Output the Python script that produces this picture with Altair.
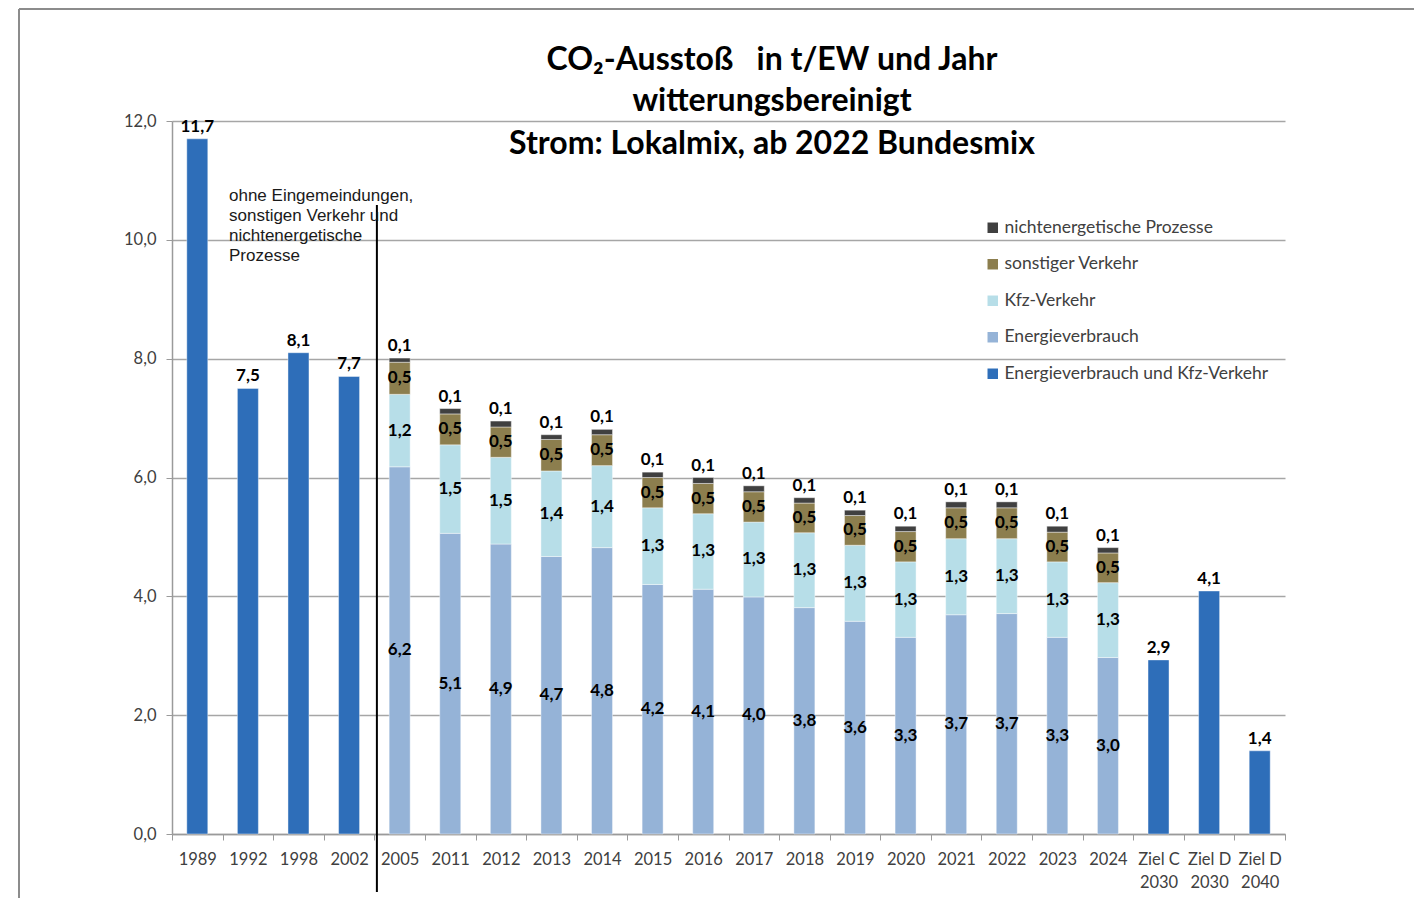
import altair as alt
import pandas as pd

# ---------------- data ----------------
categories = ["1989", "1992", "1998", "2002", "2005", "2011", "2012", "2013", "2014",
              "2015", "2016", "2017", "2018", "2019", "2020", "2021", "2022", "2023",
              "2024", "Ziel C|2030", "Ziel D|2030", "Ziel D|2040"]

single_cats = ["1989", "1992", "1998", "2002", "Ziel C|2030", "Ziel D|2030", "Ziel D|2040"]
single_vals = [11.7, 7.5, 8.1, 7.7, 2.93, 4.09, 1.40]

stack_cats = ["2005", "2011", "2012", "2013", "2014", "2015", "2016", "2017",
              "2018", "2019", "2020", "2021", "2022", "2023", "2024"]
energie = [6.18, 5.06, 4.88, 4.67, 4.82, 4.20, 4.12, 3.99, 3.81, 3.58, 3.31, 3.69, 3.71, 3.31, 2.97]
kfz = [1.22, 1.49, 1.46, 1.44, 1.38, 1.29, 1.27, 1.26, 1.26, 1.28, 1.27, 1.28, 1.26, 1.27, 1.26]
sonstiger = [0.54, 0.52, 0.51, 0.53, 0.52, 0.51, 0.51, 0.51, 0.50, 0.50, 0.51, 0.52, 0.52, 0.50, 0.50]
nichtenerg = [0.07, 0.09, 0.10, 0.08, 0.09, 0.09, 0.10, 0.10, 0.09, 0.09, 0.09, 0.10, 0.10, 0.10, 0.09]

series_names = ["nichtenergetische Prozesse", "sonstiger Verkehr", "Kfz-Verkehr",
                "Energieverbrauch", "Energieverbrauch und Kfz-Verkehr"]
series_colors = ["#404040", "#8C7E4E", "#B7DEE8", "#95B3D7", "#2E6EB9"]

title_lines = ["CO\u2082-Ausstoß\u00a0\u00a0 in t/EW und Jahr",
               "witterungsbereinigt",
               "Strom: Lokalmix, ab 2022 Bundesmix"]
note_lines = ["ohne Eingemeindungen,", "sonstigen Verkehr und",
              "nichtenergetische", "Prozesse"]


def de(v):
    return f"{v:.1f}".replace(".", ",")


rows = []
for c, v in zip(single_cats, single_vals):
    rows.append({"Jahr": c, "Serie": series_names[4], "Wert": v, "ord": 0, "lab": de(v)})
for i, c in enumerate(stack_cats):
    for o, (name, arr) in enumerate([(series_names[3], energie), (series_names[2], kfz),
                                     (series_names[1], sonstiger), (series_names[0], nichtenerg)]):
        rows.append({"Jahr": c, "Serie": name, "Wert": arr[i], "ord": o, "lab": de(arr[i])})
df = pd.DataFrame(rows)

# ---------------- scales / axes ----------------
FONT = "Lato"
xscale = alt.Scale(domain=categories, paddingInner=0, paddingOuter=0)
xaxis = alt.Axis(title=None, labelAngle=0,
                 labelExpr="isValid(datum.value) ? split(datum.value, '|') : ''",
                 tickBand="extent", ticks=True, tickSize=6, tickColor="#9a9a9a",
                 domainColor="#9a9a9a", domainWidth=1.5, labelFontSize=16.5,
                 labelFont=FONT, labelColor="#404040", labelPadding=11,
                 labelLineHeight=23, grid=False)
yscale = alt.Scale(domain=[0, 12], nice=False)
yaxis = alt.Axis(title=None, values=[0, 2, 4, 6, 8, 10, 12],
                 labelExpr="replace(format(datum.value, '.1f'), '.', ',')",
                 grid=True, gridColor="#a6a6a6", gridWidth=1.5, tickSize=6,
                 tickColor="#9a9a9a", domainColor="#9a9a9a", domainWidth=1.5,
                 labelFontSize=16.5, labelFont=FONT, labelColor="#404040",
                 labelPadding=10)

base = alt.Chart(df).transform_stack(
    stack="Wert", groupby=["Jahr"], as_=["y0", "y1"], sort=[alt.SortField("ord")]
).transform_calculate(mid="(datum.y0 + datum.y1) / 2")

X = alt.X("Jahr:N", sort=categories, scale=xscale, axis=xaxis)

bars = base.mark_bar(width=21, stroke="white", strokeWidth=0.6, strokeOpacity=0.7).encode(
    x=X,
    y=alt.Y("y1:Q", scale=yscale, axis=yaxis),
    y2="y0:Q",
    color=alt.Color("Serie:N", scale=alt.Scale(domain=series_names, range=series_colors),
                    legend=alt.Legend(orient="none", legendX=812, legendY=98, title=None,
                                      symbolType="square", symbolSize=110,
                                      symbolStrokeWidth=0, labelFontSize=17.5,
                                      labelFont=FONT, labelColor="#404040",
                                      rowPadding=17.5, padding=0, labelOffset=3,
                                      labelLimit=400)),
)

lab_kw = dict(font=FONT, fontSize=17, fontWeight="bold", color="black")

mid_labels = base.transform_filter(
    (alt.datum.Serie != series_names[0]) & (alt.datum.Serie != series_names[4])
).mark_text(baseline="middle", **lab_kw).encode(
    x=X, y=alt.Y("mid:Q", scale=yscale, axis=yaxis), text="lab:N")

top_labels = base.transform_filter(
    (alt.datum.Serie == series_names[0]) | (alt.datum.Serie == series_names[4])
).mark_text(baseline="middle", dy=-12, **lab_kw).encode(
    x=X, y=alt.Y("y1:Q", scale=yscale, axis=yaxis), text="lab:N")

sep = alt.Chart(pd.DataFrame({"Jahr": ["2005"]})).mark_rule(color="black", strokeWidth=2).encode(
    x=alt.X("Jahr:N", sort=categories, scale=xscale, axis=xaxis, bandPosition=0.05),
    y=alt.value(84), y2=alt.value(771))

layers = [bars, mid_labels, top_labels, sep]

# title lines
for t, yv in zip(title_lines, [-61, -20, 23]):
    layers.append(alt.Chart(pd.DataFrame({"t": [t]})).mark_text(
        font=FONT, fontSize=32, fontWeight="bold", color="black",
        align="center", baseline="middle").encode(
        x=alt.value(600), y=alt.value(yv), text="t:N"))

# note lines
for t, yv in zip(note_lines, [75, 95, 115, 135]):
    layers.append(alt.Chart(pd.DataFrame({"t": [t]})).mark_text(
        font="Liberation Sans", fontSize=17, color="#1a1a1a",
        align="left", baseline="middle").encode(
        x=alt.value(57), y=alt.value(yv), text="t:N"))

# outer frame (top and left edge)
layers.append(alt.Chart(pd.DataFrame({"a": [0]})).mark_rule(color="#8c8c8c", strokeWidth=2).encode(
    x=alt.value(-153), x2=alt.value(1250), y=alt.value(-112)))
layers.append(alt.Chart(pd.DataFrame({"a": [0]})).mark_rule(color="#8c8c8c", strokeWidth=2).encode(
    x=alt.value(-153), y=alt.value(-112), y2=alt.value(777)))

chart = alt.layer(*layers).properties(
    width=1113, height=713,
    autosize=alt.AutoSizeParams(type="none"),
    padding={"left": 164, "top": 113, "right": 129, "bottom": 64},
).configure_view(stroke=None)

chart.save("out.html", embed_options={"renderer": "svg", "actions": False})
